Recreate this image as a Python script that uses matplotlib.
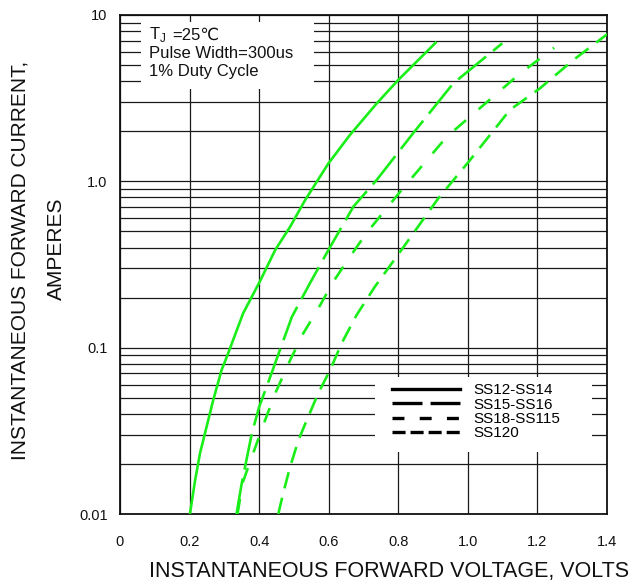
import matplotlib
matplotlib.use("Agg")
import matplotlib.pyplot as plt
from matplotlib.lines import Line2D
from matplotlib.patches import Rectangle

plt.rcParams["font.family"] = ["Liberation Sans", "DejaVu Sans"]
plt.rcParams["mathtext.fontset"] = "custom"
plt.rcParams["mathtext.rm"] = "Liberation Sans"
plt.rcParams["lines.scale_dashes"] = False

# ---- curve data (forward voltage V, forward current A) ----
V_SS12 = [0.201, 0.216, 0.230, 0.249, 0.268, 0.292, 0.307, 0.354, 0.402, 0.446,
          0.489, 0.532, 0.599, 0.661, 0.738, 0.80, 0.91]
I_SS12 = [0.01, 0.016, 0.0232, 0.0335, 0.0484, 0.0734, 0.088, 0.161, 0.25, 0.386,
          0.533, 0.77, 1.28, 1.9, 2.94, 4.07, 6.9]

V_SS15 = [0.335, 0.350, 0.379, 0.400, 0.439, 0.494, 0.546, 0.599, 0.671, 0.738,
          0.843, 0.958, 1.099]
I_SS15 = [0.01, 0.0153, 0.0305, 0.044, 0.0734, 0.153, 0.244, 0.386, 0.705, 1.02,
          1.95, 3.88, 6.76]

V_SS18 = [0.338, 0.352, 0.393, 0.420, 0.446, 0.489, 0.527, 0.570, 0.613, 0.661,
          0.709, 0.81, 0.939, 1.073, 1.145, 1.248]
I_SS18 = [0.01, 0.0153, 0.0266, 0.038, 0.053, 0.084, 0.122, 0.172, 0.249, 0.352,
          0.49, 0.89, 1.85, 3.23, 4.36, 6.35]

V_SS120 = [0.455, 0.469, 0.489, 0.513, 0.537, 0.570, 0.604, 0.637, 0.680, 0.733,
           0.795, 0.915, 1.006, 1.121, 1.207, 1.303, 1.404]
I_SS120 = [0.01, 0.0133, 0.0192, 0.0278, 0.0367, 0.0532, 0.0734, 0.106, 0.157, 0.233,
           0.352, 0.79, 1.34, 2.69, 3.62, 5.36, 7.76]

LABELS = ["SS12-SS14", "SS15-SS16", "SS18-SS115", "SS120"]

X_TICKS = [0, 0.2, 0.4, 0.6, 0.8, 1.0, 1.2, 1.4]
X_TICK_LABELS = ["0", "0.2", "0.4", "0.6", "0.8", "1.0", "1.2", "1.4"]
Y_TICKS = [0.01, 0.1, 1.0, 10]
Y_TICK_LABELS = ["0.01", "0.1", "1.0", "10"]
Y_MINOR = [m * 10.0 ** k for k in (-2, -1, 0) for m in range(2, 10)]

GREEN = "#19EE19"
GRID = "#1a1a1a"

# curve styles (dash lengths in points)
CURVE_STYLE = [
    dict(linestyle="-"),
    dict(dashes=(26, 6.5)),
    dict(dashes=(11, 12)),
    dict(dashes=(12, 7)),
]
LEGEND_STYLE = [
    dict(linestyle="-"),
    dict(dashes=(21.6, 5.8)),
    dict(dashes=(8.6, 11)),
    dict(dashes=(9.4, 3.6)),
]

fig = plt.figure(figsize=(6.41, 5.83), dpi=100)
ax = fig.add_axes([120 / 641, 69 / 583, 487 / 641, 499 / 583])
ax.set_yscale("log")
ax.set_xlim(0, 1.4)
ax.set_ylim(0.01, 10)

ax.set_xticks(X_TICKS)
ax.set_xticklabels(X_TICK_LABELS)
ax.set_yticks(Y_TICKS)
ax.set_yticklabels(Y_TICK_LABELS)
ax.set_yticks(Y_MINOR, minor=True)
ax.yaxis.set_minor_formatter(plt.NullFormatter())
ax.tick_params(axis="both", which="both", length=0, labelsize=10.5, colors="#111111")
ax.tick_params(axis="x", pad=15)
ax.tick_params(axis="y", pad=9)

ax.set_axisbelow(True)
ax.grid(True, which="major", axis="x", color=GRID, linewidth=0.9)
ax.grid(True, which="both", axis="y", color=GRID, linewidth=0.9)
for s in ax.spines.values():
    s.set_linewidth(1.3)
    s.set_color("#111111")

# white boxes behind the notes and the legend
ax.add_patch(Rectangle((0.043, 0.852), 0.355, 0.134, transform=ax.transAxes,
                       facecolor="white", edgecolor="none", zorder=1))
ax.add_patch(Rectangle((0.524, 0.124), 0.445, 0.151, transform=ax.transAxes,
                       facecolor="white", edgecolor="none", zorder=1))

series = [(V_SS12, I_SS12), (V_SS15, I_SS15), (V_SS18, I_SS18), (V_SS120, I_SS120)]
for (v, i), st in zip(series, CURVE_STYLE):
    ax.plot(v, i, color=GREEN, linewidth=1.9, solid_capstyle="butt",
            dash_capstyle="butt", solid_joinstyle="round", zorder=3, **st)

handles = [Line2D([0], [0], color="black", linewidth=2.4, dash_capstyle="butt", **st)
           for st in LEGEND_STYLE]
leg = ax.legend(handles, LABELS, loc="upper left", bbox_to_anchor=(0.5585, 0.262),
                frameon=False, fontsize=11, handlelength=4.45, handletextpad=0.85,
                labelspacing=0.02, borderpad=0, borderaxespad=0)
leg.set_zorder(5)

# test conditions
ax.text(0.0595, 0.960, r"T$_{\mathrm{J}}$", transform=ax.transAxes, fontsize=12,
        ha="left", va="center", color="#111111", zorder=5)
ax.text(0.1068, 0.960, "=25℃", transform=ax.transAxes, fontsize=12,
        ha="left", va="center", color="#111111", zorder=5)
ax.text(0.0595, 0.923, "Pulse Width=300us", transform=ax.transAxes, fontsize=12,
        ha="left", va="center", color="#111111", zorder=5)
ax.text(0.0595, 0.887, "1% Duty Cycle", transform=ax.transAxes, fontsize=12,
        ha="left", va="center", color="#111111", zorder=5)

fig.text(389 / 641, 1 - 571 / 583, "INSTANTANEOUS FORWARD VOLTAGE, VOLTS",
         fontsize=15.5, ha="center", va="center", color="#111111")
fig.text(20 / 641, 1 - 260 / 583, "INSTANTANEOUS FORWARD CURRENT,",
         fontsize=15, rotation=90, ha="center", va="center", color="#111111")
fig.text(56 / 641, 1 - 249 / 583, "AMPERES",
         fontsize=15, rotation=90, ha="center", va="center", color="#111111")

fig.savefig("out.png", dpi=100)
